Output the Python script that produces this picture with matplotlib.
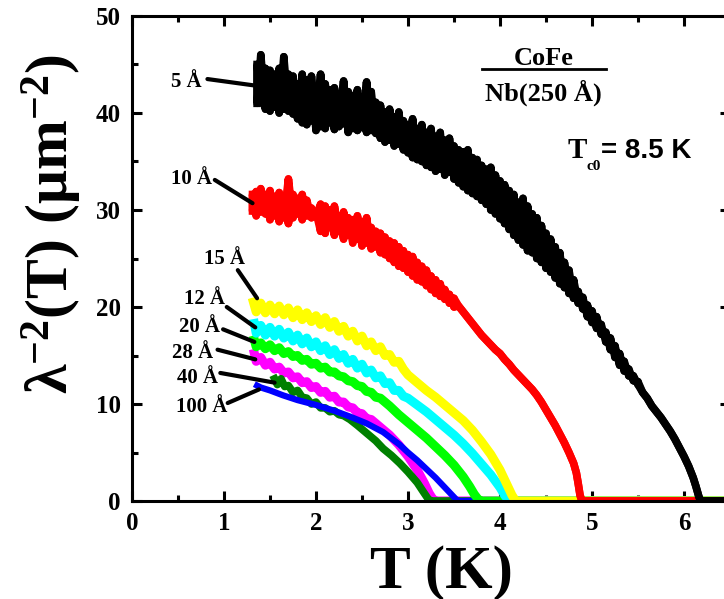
import matplotlib
matplotlib.use("Agg")
import matplotlib.pyplot as plt
from matplotlib.ticker import MultipleLocator

# 5 A  (noisy band: upper / lower values at the same T)
t5 = [1.36, 1.40, 1.45, 1.50, 1.55, 1.60, 1.65, 1.70, 1.75, 1.80, 1.85, 1.90, 1.95,
      2.00, 2.05, 2.10, 2.15, 2.20, 2.25, 2.30, 2.35, 2.40, 2.45, 2.50, 2.55, 2.60,
      2.65, 2.70, 2.75, 2.80, 2.85, 2.90, 2.95, 3.00, 3.05, 3.10, 3.15, 3.20, 3.25,
      3.30, 3.35, 3.40, 3.45, 3.50, 3.55, 3.60, 3.65, 3.70, 3.75, 3.80, 3.85, 3.90,
      3.95, 4.00, 4.05, 4.10, 4.15, 4.20, 4.25, 4.30, 4.35, 4.40, 4.45, 4.50, 4.55,
      4.60, 4.65, 4.70, 4.75, 4.80, 4.85, 4.90, 4.95, 5.00, 5.05, 5.10, 5.15, 5.20,
      5.25, 5.30, 5.35, 5.40, 5.45, 5.50]
hi5 = [45.0, 46.0, 44.6, 44.4, 44.0, 44.6, 45.8, 44.0, 43.8, 43.0, 44.0, 43.4, 43.8,
       42.6, 44.0, 43.0, 42.4, 42.6, 42.0, 43.3, 42.2, 41.8, 42.4, 41.6, 43.2, 42.2,
       41.1, 40.8, 40.1, 40.4, 39.6, 40.1, 39.2, 38.8, 39.4, 38.4, 38.8, 38.0, 38.4,
       37.6, 38.0, 37.2, 37.4, 36.6, 36.2, 36.0, 36.2, 35.4, 35.2, 34.6, 34.2, 34.4,
       33.6, 33.0, 32.6, 32.0, 31.6, 30.8, 31.2, 30.4, 29.6, 29.2, 28.4, 27.6, 27.0,
       26.2, 25.6, 24.6, 23.8, 22.8, 21.6, 21.0, 20.2, 19.6, 19.0, 18.2, 17.4, 16.8,
       16.0, 15.2, 14.4, 13.6, 12.9, 12.3]
lo5 = [41.0, 41.2, 40.4, 40.2, 40.6, 40.0, 40.4, 40.2, 39.9, 39.4, 39.0, 38.8, 39.2,
       38.2, 38.6, 38.4, 39.0, 38.3, 38.6, 38.9, 38.0, 38.4, 38.2, 38.5, 38.0, 38.2,
       37.9, 37.4, 37.0, 37.2, 36.6, 36.8, 36.2, 35.9, 35.4, 35.2, 35.0, 34.6, 34.4,
       34.0, 34.2, 33.6, 33.9, 33.2, 32.8, 32.4, 32.0, 31.7, 31.4, 31.0, 30.6, 30.0,
       29.6, 29.1, 28.6, 28.0, 27.4, 26.9, 26.4, 25.8, 25.6, 25.0, 24.6, 24.0, 23.6,
       23.0, 22.4, 22.0, 21.4, 20.9, 20.4, 19.8, 19.0, 18.4, 17.8, 17.2, 16.4, 15.6,
       14.8, 14.0, 13.4, 12.9, 12.4, 12.0]
t5_end = [5.55, 5.60, 5.65, 5.70, 5.75, 5.80, 5.85, 5.90, 5.95, 6.00, 6.05, 6.10,
          6.13, 6.16, 6.18, 6.50]
v5_end = [11.2, 10.6, 9.8, 9.2, 8.6, 7.9, 7.2, 6.4, 5.5, 4.6, 3.6, 2.4,
          1.5, 0.5, 0.0, 0.0]

# 10 A
t10 = [1.31, 1.35, 1.40, 1.45, 1.50, 1.55, 1.60, 1.65, 1.70, 1.75, 1.80, 1.85, 1.90,
       1.95, 2.00, 2.05, 2.10, 2.15, 2.20, 2.25, 2.30, 2.35, 2.40, 2.45, 2.50, 2.55,
       2.60, 2.65, 2.70, 2.75, 2.80, 2.85, 2.90, 2.95, 3.00, 3.05, 3.10, 3.15, 3.20,
       3.25, 3.30, 3.35, 3.40, 3.45, 3.50]
hi10 = [31.6, 31.9, 32.2, 31.6, 32.0, 31.4, 31.8, 31.2, 33.2, 31.6, 31.2, 31.6, 31.0,
        30.2, 29.8, 30.6, 30.4, 30.0, 30.4, 29.4, 29.8, 29.2, 29.0, 29.4, 28.8, 29.2,
        28.2, 27.8, 27.6, 27.2, 26.8, 26.6, 26.2, 25.8, 25.4, 25.2, 24.6, 24.2, 23.8,
        23.2, 22.8, 22.4, 21.8, 21.3, 20.9]
lo10 = [29.9, 29.4, 29.8, 29.6, 29.0, 29.4, 28.8, 29.2, 28.6, 29.2, 29.6, 29.0, 29.4,
        29.2, 29.4, 27.8, 27.6, 28.2, 27.4, 27.8, 27.0, 27.4, 26.6, 27.0, 26.3, 26.6,
        26.0, 26.2, 25.6, 25.4, 25.0, 24.6, 24.2, 24.0, 23.6, 23.2, 22.8, 22.6, 22.2,
        21.8, 21.4, 21.1, 20.8, 20.4, 20.0]
t10_end = [3.55, 3.60, 3.65, 3.70, 3.75, 3.80, 3.85, 3.90, 3.95, 4.00, 4.05, 4.10,
           4.15, 4.20, 4.25, 4.30, 4.35, 4.40, 4.45, 4.50, 4.55, 4.60, 4.65, 4.70,
           4.75, 4.80, 4.83, 4.85, 4.87, 4.89, 6.50]
v10_end = [20.1, 19.5, 18.9, 18.3, 17.7, 17.1, 16.6, 16.1, 15.6, 15.2, 14.6, 14.1,
           13.5, 13.0, 12.5, 12.0, 11.5, 10.9, 10.2, 9.4, 8.6, 7.8, 6.9, 6.0,
           5.0, 3.9, 2.9, 1.8, 0.6, 0.0, 0.0]

# 15 A
t15 = [1.32, 1.35, 1.40, 1.45, 1.50, 1.55, 1.60, 1.65, 1.70, 1.75, 1.80, 1.85, 1.90,
       1.95, 2.00, 2.05, 2.10, 2.15, 2.20, 2.25, 2.30, 2.35, 2.40, 2.45, 2.50, 2.55,
       2.60, 2.65, 2.70, 2.75, 2.80, 2.85, 2.90, 2.95, 3.00, 3.10, 3.20, 3.30, 3.40,
       3.50, 3.60, 3.70, 3.80, 3.90, 4.00, 4.08, 4.13, 4.17, 6.50]
v15 = [20.5, 19.5, 20.4, 19.4, 20.2, 19.3, 20.1, 19.2, 19.9, 18.9, 19.7, 18.7, 19.4,
       18.5, 19.1, 18.2, 18.9, 17.9, 18.5, 17.5, 18.0, 17.0, 17.5, 16.5, 17.0, 16.0,
       16.4, 15.5, 15.9, 15.0, 15.1, 14.3, 14.4, 13.6, 13.0, 12.2, 11.4, 10.7, 9.9,
       9.1, 8.3, 7.3, 6.1, 4.8, 3.2, 1.6, 0.6, 0.0, 0.0]

# 12 A
t12 = [1.33, 1.35, 1.40, 1.45, 1.50, 1.55, 1.60, 1.65, 1.70, 1.75, 1.80, 1.85, 1.90,
       1.95, 2.00, 2.05, 2.10, 2.15, 2.20, 2.25, 2.30, 2.35, 2.40, 2.45, 2.50, 2.55,
       2.60, 2.65, 2.70, 2.75, 2.80, 2.85, 2.90, 2.95, 3.00, 3.10, 3.20, 3.30, 3.40,
       3.50, 3.60, 3.70, 3.80, 3.90, 4.00, 4.05, 4.10, 6.50]
v12 = [18.3, 17.3, 18.1, 17.1, 17.9, 17.0, 17.7, 16.8, 17.4, 16.5, 17.1, 16.2, 16.8,
       15.9, 16.4, 15.5, 16.0, 15.1, 15.6, 14.7, 15.1, 14.2, 14.6, 13.7, 14.1, 13.2,
       13.5, 12.7, 12.9, 12.1, 12.2, 11.4, 11.4, 10.8, 10.6, 9.9, 9.2, 8.4, 7.6,
       6.8, 5.9, 4.9, 3.8, 2.7, 1.4, 0.6, 0.0, 0.0]

# 20 A
t20 = [1.33, 1.35, 1.40, 1.45, 1.50, 1.55, 1.60, 1.65, 1.70, 1.75, 1.80, 1.85, 1.90,
       1.95, 2.00, 2.05, 2.10, 2.15, 2.20, 2.25, 2.30, 2.35, 2.40, 2.45, 2.50, 2.55,
       2.60, 2.65, 2.70, 2.80, 2.90, 3.00, 3.10, 3.20, 3.30, 3.40, 3.50, 3.60, 3.67,
       3.72, 3.76, 3.79, 6.50]
v20 = [16.6, 15.9, 16.3, 15.7, 16.1, 15.5, 15.8, 15.2, 15.4, 14.9, 15.0, 14.5, 14.6,
       14.1, 14.2, 13.7, 13.8, 13.3, 13.3, 12.9, 12.8, 12.4, 12.3, 11.9, 11.8, 11.3,
       11.2, 10.7, 10.6, 9.8, 8.9, 8.1, 7.3, 6.5, 5.6, 4.7, 3.7, 2.5, 1.5,
       0.7, 0.2, 0.0, 0.0]

# 28 A
t28 = [1.33, 1.35, 1.40, 1.45, 1.50, 1.55, 1.60, 1.65, 1.70, 1.75, 1.80, 1.85, 1.90,
       1.95, 2.00, 2.05, 2.10, 2.15, 2.20, 2.25, 2.30, 2.35, 2.40, 2.45, 2.50, 2.55,
       2.60, 2.70, 2.80, 2.90, 3.00, 3.10, 3.18, 3.23, 3.27, 3.30, 6.50]
v28 = [15.2, 14.4, 14.8, 14.0, 14.3, 13.6, 13.8, 13.2, 13.3, 12.7, 12.8, 12.2, 12.3,
       11.7, 11.8, 11.2, 11.3, 10.7, 10.8, 10.2, 10.2, 9.7, 9.6, 9.1, 9.0, 8.5,
       8.4, 7.6, 6.8, 5.8, 4.6, 3.2, 1.8, 0.8, 0.2, 0.0, 0.0]

# 40 A
t40 = [1.55, 1.58, 1.62, 1.66, 1.70, 1.75, 1.80, 1.85, 1.90, 1.95, 2.00, 2.05, 2.10,
       2.15, 2.20, 2.25, 2.30, 2.37, 2.45, 2.55, 2.65, 2.73, 2.82, 2.91, 3.00, 3.10,
       3.17, 3.22, 3.25, 6.50]
v40 = [12.6, 12.0, 12.6, 11.8, 11.9, 11.2, 11.4, 10.7, 10.6, 10.0, 10.2, 9.6, 9.6,
       9.2, 9.3, 8.9, 8.8, 8.4, 7.8, 7.0, 6.2, 5.4, 4.7, 3.9, 3.0, 1.9,
       0.9, 0.2, 0.0, 0.0]

# 100 A
t100 = [1.36, 1.40, 1.50, 1.64, 1.80, 2.00, 2.20, 2.37, 2.55, 2.73, 2.91, 3.00, 3.10,
        3.20, 3.30, 3.40, 3.46, 3.52, 3.55, 6.50]
v100 = [11.9, 11.7, 11.4, 10.9, 10.4, 9.9, 9.3, 8.7, 8.0, 7.1, 5.8, 5.0, 4.2,
        3.3, 2.4, 1.4, 0.8, 0.2, 0.0, 0.0]

# curve labels: text, text anchor (T, y), leader start, leader end
labels = ["5 Å", "10 Å", "15 Å", "12 Å", "20 Å", "28 Å", "40 Å", "100 Å"]
label_xy = [(0.76, 42.7), (0.87, 32.7), (1.23, 24.4), (1.01, 20.3),
            (0.96, 17.4), (0.88, 14.7), (0.94, 12.2), (1.04, 9.2)]
leader_from = [(0.82, 43.5), (0.90, 33.1), (1.15, 23.8), (1.03, 20.0),
               (0.99, 17.7), (0.93, 15.6), (0.96, 13.2), (1.04, 10.1)]
leader_to = [(1.36, 42.8), (1.31, 30.7), (1.36, 20.9), (1.34, 17.9),
             (1.33, 16.4), (1.34, 14.6), (1.55, 12.2), (1.38, 11.5)]


def zigzag(t, a, b):
    xs, ys = [], []
    for x, p, q in zip(t, a, b):
        xs += [x, x]
        ys += [p, q]
    return xs, ys


plt.rcParams['font.family'] = ['Liberation Serif', 'DejaVu Serif']
plt.rcParams['font.weight'] = 'bold'
plt.rcParams['mathtext.default'] = 'regular'

fig = plt.figure(figsize=(7.24, 5.99), dpi=100)
ax = fig.add_axes([132 / 724, 98 / 599, 598 / 724, 485 / 599])

lw = 6.5
ax.plot(t28, v28, color='#ff00ff', lw=lw)
ax.plot(t40, v40, color='#008000', lw=5.5)
ax.plot(t100, v100, color='#0000ff', lw=4.5)
ax.plot(t20, v20, color='#00ff00', lw=lw)
ax.plot(t12, v12, color='#00ffff', lw=lw)
ax.plot(t15, v15, color='#ffff00', lw=lw)
# noisy curves: two crossed zigzags fill the band
for a, b in ((hi10, lo10), (lo10, hi10)):
    x10, y10 = zigzag(t10, a, b)
    ax.plot(x10 + t10_end, y10 + v10_end, color='#ff0000', lw=5.5)
for a, b in ((hi5, lo5), (lo5, hi5)):
    x5, y5 = zigzag(t5, a, b)
    ax.plot(x5 + t5_end, y5 + v5_end, color='black', lw=5.5)

for txt, xy, p0, p1 in zip(labels, label_xy, leader_from, leader_to):
    ax.text(xy[0], xy[1], txt, ha='right', va='baseline', fontsize=15, fontweight='bold')
    ax.plot([p0[0], p1[0]], [p0[1], p1[1]], color='black', lw=3, solid_capstyle='round')

# sample description
ax.text(4.47, 44.9, "CoFe", ha='center', va='baseline', fontsize=19, fontweight='bold')
ax.plot([3.80, 5.15], [44.5, 44.5], color='black', lw=2)
ax.text(4.47, 41.3, "Nb(250 Å)", ha='center', va='baseline', fontsize=19, fontweight='bold')
ax.text(4.73, 35.4, "T", ha='left', va='baseline', fontsize=21, fontweight='bold')
ax.text(4.94, 34.1, "c0", ha='left', va='baseline', fontsize=11, fontweight='bold')
ax.text(5.10, 35.4, "= 8.5 K", ha='left', va='baseline', fontsize=20, fontweight='bold',
        family=['Liberation Sans', 'DejaVu Sans'])

ax.set_xlim(0, 6.5)
ax.set_ylim(0, 50)
ax.xaxis.set_major_locator(MultipleLocator(1))
ax.xaxis.set_minor_locator(MultipleLocator(0.5))
ax.yaxis.set_major_locator(MultipleLocator(10))
ax.yaxis.set_minor_locator(MultipleLocator(5))
ax.tick_params(which='both', direction='in', top=True, right=True, width=2.2,
               labelsize=18)
ax.tick_params(which='major', length=7, pad=8)
ax.tick_params(which='minor', length=4)
for lab in ax.get_xticklabels() + ax.get_yticklabels():
    lab.set_fontweight('bold')
for s in ax.spines.values():
    s.set_linewidth(2.2)

fig.text(441 / 724, 11 / 599, "T (K)", ha='center', va='baseline', fontsize=44,
         fontweight='bold')
fig.text(52 / 724, 1 - 224 / 599, "λ$^{-2}$(T) (μm$^{-2}$)", ha='center', va='center',
         rotation=90, fontsize=43, fontweight='bold')

fig.savefig("out.png", dpi=100)
